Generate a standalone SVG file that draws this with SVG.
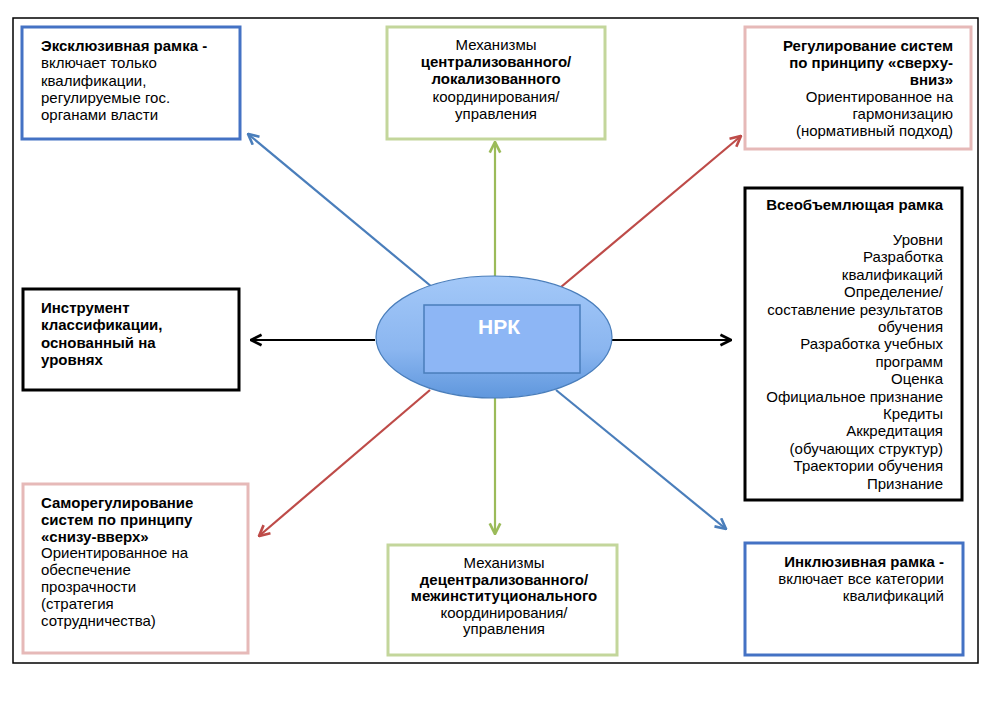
<svg xmlns="http://www.w3.org/2000/svg" width="992" height="708" viewBox="0 0 992 708">
<style>
text{font-family:"Liberation Sans",Arial,sans-serif;font-size:15px;fill:#000}
.b{font-weight:bold}
.box{fill:#fff;stroke-width:3}
.blue{stroke:#4472c4}
.green{stroke:#c3d69b}
.pink{stroke:#e6b9b8}
.black{stroke:#000}
.c{fill:none;stroke-width:2.2}
</style>
<defs>
<linearGradient id="g" x1="0" y1="0" x2="0" y2="1">
<stop offset="0" stop-color="#a3c8f8"/>
<stop offset="0.6" stop-color="#8bb6f0"/>
<stop offset="1" stop-color="#5f97dd"/>
</linearGradient>
<marker id="mb" viewBox="0 0 10 10" refX="9" refY="5" markerWidth="6" markerHeight="6" orient="auto" markerUnits="strokeWidth"><path d="M1,1 L9,5 L1,9" fill="none" stroke="#4a7ebb" stroke-width="2"/></marker>
<marker id="mg" viewBox="0 0 10 10" refX="9" refY="5" markerWidth="6" markerHeight="6" orient="auto" markerUnits="strokeWidth"><path d="M1,1 L9,5 L1,9" fill="none" stroke="#9bbb59" stroke-width="2"/></marker>
<marker id="mr" viewBox="0 0 10 10" refX="9" refY="5" markerWidth="6" markerHeight="6" orient="auto" markerUnits="strokeWidth"><path d="M1,1 L9,5 L1,9" fill="none" stroke="#be4b48" stroke-width="2"/></marker>
<marker id="mk" viewBox="0 0 10 10" refX="9" refY="5" markerWidth="6" markerHeight="6" orient="auto" markerUnits="strokeWidth"><path d="M1,1 L9,5 L1,9" fill="none" stroke="#000" stroke-width="2"/></marker>
</defs>
<rect x="0" y="0" width="992" height="708" fill="#fff"/>
<rect id="frame" x="13" y="18" width="965" height="645" fill="#fff" stroke="#000" stroke-width="1.5"/>

<g id="connectors">
<line class="c" x1="432" y1="287" x2="248" y2="134" stroke="#4a7ebb" marker-end="url(#mb)"/>
<line class="c" x1="495" y1="277" x2="495" y2="142" stroke="#9bbb59" marker-end="url(#mg)"/>
<line class="c" x1="561" y1="287" x2="741" y2="136" stroke="#be4b48" marker-end="url(#mr)"/>
<line class="c" x1="375" y1="340" x2="251" y2="340" stroke="#000" marker-end="url(#mk)"/>
<line class="c" x1="612" y1="340" x2="731" y2="340" stroke="#000" marker-end="url(#mk)"/>
<line class="c" x1="430" y1="390" x2="259" y2="536" stroke="#be4b48" marker-end="url(#mr)"/>
<line class="c" x1="495" y1="398" x2="495" y2="534" stroke="#9bbb59" marker-end="url(#mg)"/>
<line class="c" x1="556" y1="390" x2="726" y2="529" stroke="#4a7ebb" marker-end="url(#mb)"/>
</g>

<g id="nrk">
<ellipse cx="494" cy="337" rx="118" ry="61" fill="url(#g)" stroke="#4a7ebb" stroke-width="1.2"/>
<rect x="424" y="305" width="156" height="68" fill="#8db6f5" stroke="#4a7ebb" stroke-width="1.5"/>
<text x="499" y="334" text-anchor="middle" class="b" style="font-size:21px;fill:#fff">НРК</text>
</g>

<g id="exclusive">
<rect class="box blue" x="22" y="27" width="218" height="112"/>
<text x="41" y="51"><tspan class="b">Эксклюзивная рамка -</tspan><tspan x="41" dy="17.3">включает только</tspan><tspan x="41" dy="17.3">квалификации,</tspan><tspan x="41" dy="17.3">регулируемые гос.</tspan><tspan x="41" dy="17.3">органами власти</tspan></text>
</g>

<g id="centralized">
<rect class="box green" x="387" y="27" width="218" height="112"/>
<text x="496" y="50" text-anchor="middle"><tspan>Механизмы</tspan><tspan x="496" dy="17.2" class="b">централизованного/</tspan><tspan x="496" dy="17.2" class="b">локализованного</tspan><tspan x="496" dy="17.2">координирования/</tspan><tspan x="496" dy="17.2">управления</tspan></text>
</g>

<g id="topdown">
<rect class="box pink" x="745" y="27" width="226" height="122"/>
<text x="953" y="51" text-anchor="end"><tspan class="b">Регулирование систем</tspan><tspan x="953" dy="17" class="b">по принципу «сверху-</tspan><tspan x="953" dy="17" class="b">вниз»</tspan><tspan x="953" dy="17">Ориентированное на</tspan><tspan x="953" dy="17">гармонизацию</tspan><tspan x="953" dy="17">(нормативный подход)</tspan></text>
</g>

<g id="comprehensive">
<rect class="box black" x="745" y="188" width="217" height="312"/>
<text x="943" y="210" text-anchor="end"><tspan class="b">Всеобъемлющая рамка</tspan><tspan x="943" y="245">Уровни</tspan><tspan x="943" dy="17.4">Разработка</tspan><tspan x="943" dy="17.4">квалификаций</tspan><tspan x="943" dy="17.4">Определение/</tspan><tspan x="943" dy="17.4">составление результатов</tspan><tspan x="943" dy="17.4">обучения</tspan><tspan x="943" dy="17.4">Разработка учебных</tspan><tspan x="943" dy="17.4">программ</tspan><tspan x="943" dy="17.4">Оценка</tspan><tspan x="943" dy="17.4">Официальное признание</tspan><tspan x="943" dy="17.4">Кредиты</tspan><tspan x="943" dy="17.4">Аккредитация</tspan><tspan x="943" dy="17.4">(обучающих структур)</tspan><tspan x="943" dy="17.4">Траектории обучения</tspan><tspan x="943" dy="17.4">Признание</tspan></text>
</g>

<g id="classification">
<rect class="box black" x="23" y="289" width="216" height="101"/>
<text x="41" y="313" class="b"><tspan>Инструмент</tspan><tspan x="41" dy="17.3">классификации,</tspan><tspan x="41" dy="17.3">основанный на</tspan><tspan x="41" dy="17.3">уровнях</tspan></text>
</g>

<g id="bottomup">
<rect class="box pink" x="23" y="484" width="225" height="169"/>
<text x="41" y="508"><tspan class="b">Саморегулирование</tspan><tspan x="41" dy="16.8" class="b">систем по принципу</tspan><tspan x="41" dy="16.8" class="b">«снизу-вверх»</tspan><tspan x="41" dy="16.8">Ориентированное на</tspan><tspan x="41" dy="16.8">обеспечение</tspan><tspan x="41" dy="16.8">прозрачности</tspan><tspan x="41" dy="16.8">(стратегия</tspan><tspan x="41" dy="16.8">сотрудничества)</tspan></text>
</g>

<g id="decentralized">
<rect class="box green" x="388" y="545" width="229" height="110"/>
<text x="504" y="568" text-anchor="middle"><tspan>Механизмы</tspan><tspan x="504" dy="16.6" class="b">децентрализованного/</tspan><tspan x="504" dy="16.6" class="b">межинституционального</tspan><tspan x="504" dy="16.6">координирования/</tspan><tspan x="504" dy="16.6">управления</tspan></text>
</g>

<g id="inclusive">
<rect class="box blue" x="745" y="543" width="218" height="112"/>
<text x="944" y="567" text-anchor="end"><tspan class="b">Инклюзивная рамка -</tspan><tspan x="944" dy="17">включает все категории</tspan><tspan x="944" dy="17">квалификаций</tspan></text>
</g>
</svg>
